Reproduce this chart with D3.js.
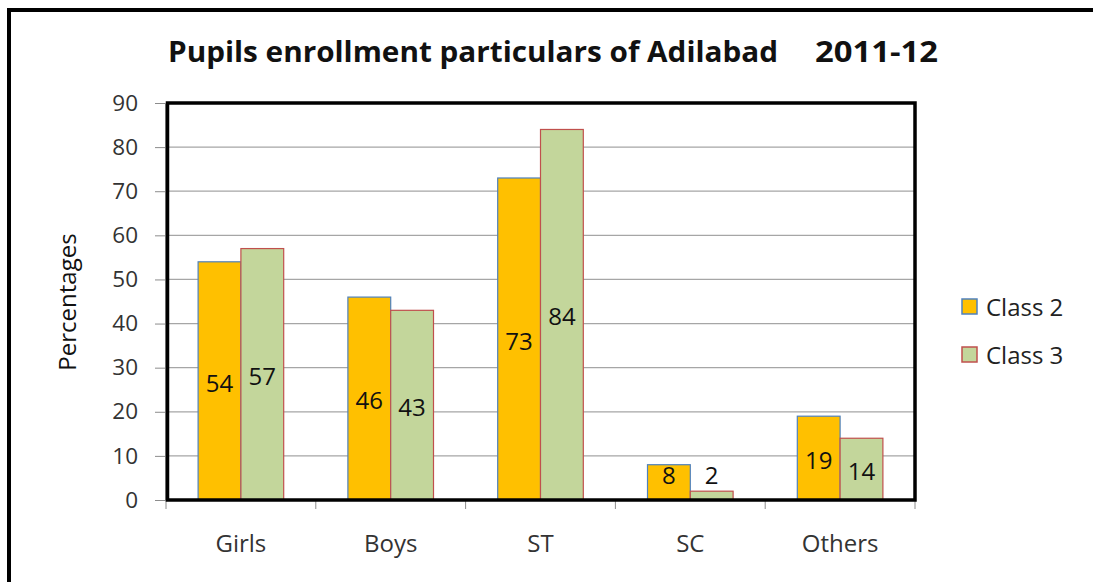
<!DOCTYPE html>
<html lang="en">
<head>
    <meta charset="UTF-8">
    <title>Pupils enrollment particulars of Adilabad</title>
    <script src="https://cdn.jsdelivr.net/npm/d3@7"></script>
    <style>
        body { margin: 0; background: #fff; }
        text { font-family: "Open Sans", sans-serif; }
    </style>
</head>
<body>
    <div id="container"></div>

    <script>
        const width = 1093;
        const height = 582;
        const margin = { top: 103, left: 166, right: 178, bottom: 82 };

        const categories = ['Girls', 'Boys', 'ST', 'SC', 'Others'];
        const seriesNames = ['Class 2', 'Class 3'];
        const class2 = [54, 46, 73, 8, 19];
        const class3 = [57, 43, 84, 2, 14];
        const yTicks = [0, 10, 20, 30, 40, 50, 60, 70, 80, 90];

        const fills = ['#ffc000', '#c3d69b'];
        const strokes = ['#4f81bd', '#c0504d'];

        const data = categories.map((c, i) => ({ name: c, values: [class2[i], class3[i]] }));

        const svg = d3.select('#container').append('svg')
            .attr('width', width)
            .attr('height', height);

        // outer frame
        svg.append('rect')
            .attr('x', 9).attr('y', 10)
            .attr('width', width + 20).attr('height', height + 20)
            .attr('fill', 'none')
            .attr('stroke', '#000')
            .attr('stroke-width', 4);

        const x = d3.scaleBand()
            .domain(categories)
            .range([margin.left, width - margin.right]);
        const x1 = d3.scaleBand()
            .domain(seriesNames)
            .range([0, x.bandwidth()])
            .paddingOuter(0.75)
            .paddingInner(0);
        const y = d3.scaleLinear()
            .domain([0, 90])
            .range([height - margin.bottom, margin.top]);

        // gridlines
        svg.append('g')
            .selectAll('line')
            .data(yTicks.slice(1))
            .join('line')
            .attr('x1', margin.left).attr('x2', width - margin.right)
            .attr('y1', d => y(d)).attr('y2', d => y(d))
            .attr('stroke', '#a6a6a6')
            .attr('stroke-width', 1.2);

        // y axis
        const yAxis = svg.append('g')
            .attr('transform', `translate(${margin.left - 1},0)`)
            .call(d3.axisLeft(y).tickValues(yTicks).tickSize(10).tickPadding(17));
        yAxis.select('.domain').attr('stroke', '#8c8c8c');
        yAxis.selectAll('.tick line').attr('stroke', '#8c8c8c');
        yAxis.selectAll('.tick text')
            .attr('font-size', 22.5)
            .attr('fill', '#333')
            .attr('font-family', '"Open Sans", sans-serif');

        // x axis ticks at band boundaries
        const xAxis = svg.append('g')
            .attr('transform', `translate(0,${y(0)})`);
        xAxis.selectAll('line')
            .data(categories.concat(['end']))
            .join('line')
            .attr('x1', (d, i) => margin.left + i * x.step())
            .attr('x2', (d, i) => margin.left + i * x.step())
            .attr('y1', 0).attr('y2', 9)
            .attr('stroke', '#8c8c8c');
        xAxis.selectAll('text')
            .data(categories)
            .join('text')
            .attr('x', d => x(d) + x.bandwidth() / 2)
            .attr('y', 52)
            .attr('text-anchor', 'middle')
            .attr('font-size', 24)
            .attr('fill', '#333')
            .text(d => d);

        // bars
        const groups = svg.append('g')
            .selectAll('g')
            .data(data)
            .join('g')
            .attr('transform', d => `translate(${x(d.name)},0)`);

        groups.selectAll('rect')
            .data(d => d.values.map((v, i) => ({ series: seriesNames[i], i, value: v })))
            .join('rect')
            .attr('x', d => x1(d.series))
            .attr('y', d => y(d.value))
            .attr('width', x1.bandwidth())
            .attr('height', d => y(0) - y(d.value))
            .attr('fill', d => fills[d.i])
            .attr('stroke', d => strokes[d.i])
            .attr('stroke-width', 1.2);

        groups.selectAll('text')
            .data(d => d.values.map((v, i) => ({ series: seriesNames[i], i, value: v })))
            .join('text')
            .attr('x', d => x1(d.series) + x1.bandwidth() / 2)
            .attr('y', d => Math.min((y(d.value) + y(0)) / 2 + 2, y(0) - 25))
            .attr('dy', '0.36em')
            .attr('text-anchor', 'middle')
            .attr('font-size', 24)
            .attr('fill', '#111')
            .text(d => d.value);

        // plot frame
        svg.append('rect')
            .attr('x', margin.left + 1.5).attr('y', margin.top)
            .attr('width', width - margin.right - margin.left - 1.5)
            .attr('height', y(0) - margin.top)
            .attr('fill', 'none')
            .attr('stroke', '#000')
            .attr('stroke-width', 3.5);

        // title
        svg.append('text')
            .attr('x', 168).attr('y', 62)
            .attr('font-size', 28)
            .attr('font-weight', 'bold')
            .attr('fill', '#111')
            .attr('textLength', 610)
            .attr('lengthAdjust', 'spacingAndGlyphs')
            .text('Pupils enrollment particulars of Adilabad');
        svg.append('text')
            .attr('x', 815).attr('y', 62)
            .attr('font-size', 28)
            .attr('font-weight', 'bold')
            .attr('fill', '#111')
            .attr('textLength', 123)
            .attr('lengthAdjust', 'spacingAndGlyphs')
            .text('2011-12');

        // y title
        svg.append('text')
            .attr('transform', 'translate(76,302) rotate(-90)')
            .attr('text-anchor', 'middle')
            .attr('font-size', 24)
            .attr('fill', '#111')
            .text('Percentages');

        // legend
        const legend = svg.append('g')
            .selectAll('g')
            .data(seriesNames)
            .join('g')
            .attr('transform', (d, i) => `translate(962,${299 + i * 48})`);
        legend.append('rect')
            .attr('width', 15).attr('height', 15)
            .attr('fill', (d, i) => fills[i])
            .attr('stroke', (d, i) => strokes[i])
            .attr('stroke-width', 1.5);
        legend.append('text')
            .attr('x', 24).attr('y', 8)
            .attr('dy', '0.36em')
            .attr('font-size', 24)
            .attr('fill', '#222')
            .text(d => d);
    </script>
</body>
</html>
